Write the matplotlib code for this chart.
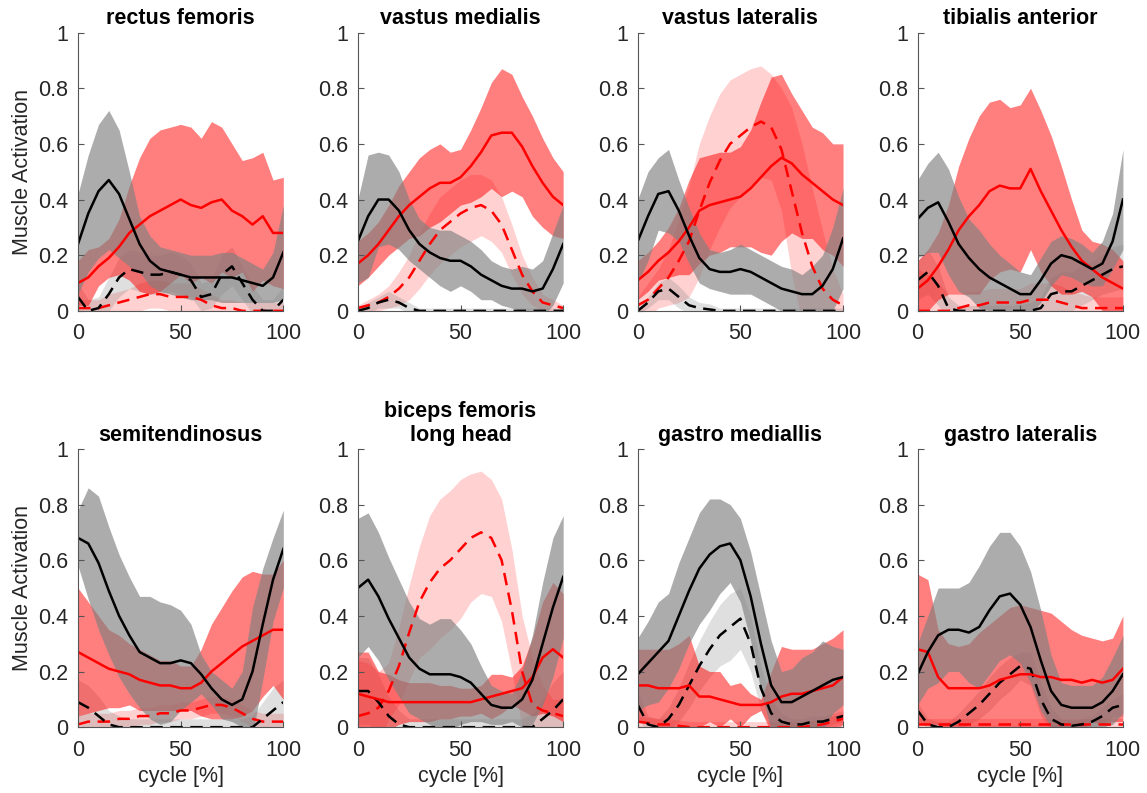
import numpy as np
import matplotlib
matplotlib.use('Agg')
import matplotlib.pyplot as plt

plt.rcParams['font.family'] = ['Liberation Sans', 'DejaVu Sans']

# gait cycle samples (every 5 %)
cycle = np.arange(0, 101, 5)

# ---- rectus femoris ----
rf_bs = [0.24, 0.35, 0.43, 0.47, 0.42, 0.33, 0.24, 0.18, 0.15, 0.14, 0.13, 0.12, 0.12, 0.12, 0.12, 0.12, 0.11, 0.10, 0.09, 0.12, 0.21]
rf_bs_sd = [0.18, 0.21, 0.24, 0.25, 0.23, 0.17, 0.10, 0.09, 0.08, 0.08, 0.08, 0.08, 0.08, 0.08, 0.09, 0.09, 0.08, 0.07, 0.06, 0.09, 0.17]
rf_bd = [0.05, 0.00, 0.01, 0.06, 0.12, 0.15, 0.14, 0.13, 0.13, 0.14, 0.13, 0.11, 0.05, 0.06, 0.13, 0.16, 0.10, 0.04, 0.00, 0.00, 0.04]
rf_bd_sd = [0.05, 0.04, 0.04, 0.06, 0.07, 0.07, 0.07, 0.07, 0.07, 0.07, 0.07, 0.06, 0.05, 0.05, 0.07, 0.07, 0.06, 0.05, 0.04, 0.04, 0.05]
rf_rs = [0.10, 0.12, 0.16, 0.19, 0.23, 0.28, 0.31, 0.34, 0.36, 0.38, 0.40, 0.38, 0.37, 0.39, 0.40, 0.36, 0.34, 0.31, 0.34, 0.28, 0.28]
rf_rs_sd = [0.08, 0.10, 0.07, 0.07, 0.10, 0.17, 0.24, 0.28, 0.29, 0.28, 0.27, 0.28, 0.25, 0.29, 0.26, 0.24, 0.20, 0.24, 0.23, 0.19, 0.20]
rf_rd = [0.01, 0.01, 0.01, 0.02, 0.03, 0.04, 0.05, 0.06, 0.06, 0.05, 0.05, 0.05, 0.04, 0.02, 0.01, 0.01, 0.00, 0.00, 0.00, 0.00, 0.00]
rf_rd_sd = [0.03, 0.03, 0.03, 0.04, 0.04, 0.04, 0.05, 0.05, 0.05, 0.05, 0.05, 0.05, 0.04, 0.04, 0.03, 0.03, 0.03, 0.03, 0.03, 0.03, 0.03]

# ---- vastus medialis ----
vm_bs = [0.25, 0.34, 0.40, 0.40, 0.36, 0.29, 0.24, 0.21, 0.19, 0.18, 0.18, 0.16, 0.13, 0.11, 0.09, 0.08, 0.08, 0.07, 0.08, 0.15, 0.24]
vm_bs_sd = [0.15, 0.22, 0.17, 0.16, 0.14, 0.11, 0.09, 0.09, 0.10, 0.11, 0.09, 0.09, 0.09, 0.07, 0.07, 0.07, 0.08, 0.08, 0.10, 0.13, 0.14]
vm_bd = [0.00, 0.01, 0.03, 0.04, 0.03, 0.01, 0.00, 0.00, 0.00, 0.00, 0.00, 0.00, 0.00, 0.00, 0.00, 0.00, 0.00, 0.00, 0.00, 0.00, 0.00]
vm_bd_sd = [0.01, 0.02, 0.02, 0.03, 0.02, 0.02, 0.01, 0.01, 0.01, 0.01, 0.01, 0.01, 0.01, 0.01, 0.01, 0.01, 0.01, 0.01, 0.01, 0.01, 0.01]
vm_rs = [0.17, 0.20, 0.24, 0.29, 0.34, 0.38, 0.41, 0.44, 0.46, 0.46, 0.48, 0.52, 0.57, 0.63, 0.64, 0.64, 0.59, 0.52, 0.46, 0.41, 0.38]
vm_rs_sd = [0.08, 0.08, 0.08, 0.09, 0.11, 0.12, 0.14, 0.14, 0.14, 0.11, 0.10, 0.13, 0.16, 0.19, 0.23, 0.21, 0.18, 0.18, 0.16, 0.14, 0.12]
vm_rd = [0.01, 0.02, 0.03, 0.05, 0.08, 0.12, 0.18, 0.24, 0.29, 0.32, 0.35, 0.37, 0.38, 0.36, 0.31, 0.22, 0.13, 0.07, 0.03, 0.02, 0.01]
vm_rd_sd = [0.01, 0.02, 0.03, 0.04, 0.06, 0.08, 0.10, 0.11, 0.12, 0.12, 0.12, 0.12, 0.11, 0.11, 0.10, 0.09, 0.07, 0.05, 0.03, 0.02, 0.01]

# ---- vastus lateralis ----
vl_bs = [0.25, 0.34, 0.42, 0.43, 0.36, 0.27, 0.19, 0.15, 0.14, 0.14, 0.15, 0.14, 0.12, 0.10, 0.08, 0.07, 0.06, 0.06, 0.09, 0.15, 0.26]
vl_bs_sd = [0.15, 0.16, 0.13, 0.15, 0.11, 0.10, 0.09, 0.07, 0.07, 0.08, 0.09, 0.08, 0.08, 0.08, 0.08, 0.08, 0.07, 0.10, 0.11, 0.15, 0.18]
vl_bd = [0.00, 0.03, 0.07, 0.08, 0.05, 0.02, 0.01, 0.005, 0.00, 0.00, 0.00, 0.00, 0.00, 0.00, 0.00, 0.00, 0.00, 0.00, 0.00, 0.00, 0.00]
vl_bd_sd = [0.01, 0.02, 0.03, 0.04, 0.04, 0.03, 0.02, 0.02, 0.01, 0.01, 0.01, 0.01, 0.01, 0.01, 0.01, 0.01, 0.01, 0.01, 0.01, 0.01, 0.01]
vl_rs = [0.11, 0.14, 0.18, 0.21, 0.25, 0.30, 0.36, 0.38, 0.39, 0.40, 0.41, 0.44, 0.48, 0.52, 0.55, 0.53, 0.49, 0.46, 0.43, 0.40, 0.38]
vl_rs_sd = [0.07, 0.07, 0.07, 0.09, 0.12, 0.17, 0.19, 0.18, 0.18, 0.17, 0.18, 0.21, 0.27, 0.32, 0.30, 0.25, 0.23, 0.20, 0.21, 0.20, 0.22]
vl_rd = [0.02, 0.04, 0.08, 0.12, 0.18, 0.25, 0.36, 0.46, 0.54, 0.60, 0.63, 0.66, 0.68, 0.66, 0.58, 0.43, 0.28, 0.16, 0.08, 0.04, 0.02]
vl_rd_sd = [0.03, 0.06, 0.07, 0.10, 0.15, 0.20, 0.24, 0.24, 0.24, 0.23, 0.22, 0.21, 0.20, 0.19, 0.22, 0.30, 0.32, 0.28, 0.21, 0.11, 0.04]

# ---- tibialis anterior ----
ta_bs = [0.33, 0.37, 0.39, 0.32, 0.24, 0.19, 0.15, 0.12, 0.10, 0.08, 0.06, 0.06, 0.11, 0.17, 0.20, 0.19, 0.17, 0.15, 0.17, 0.25, 0.40]
ta_bs_sd = [0.14, 0.16, 0.18, 0.19, 0.17, 0.14, 0.14, 0.12, 0.10, 0.09, 0.08, 0.07, 0.08, 0.08, 0.07, 0.07, 0.07, 0.06, 0.08, 0.10, 0.18]
ta_bd = [0.11, 0.14, 0.09, 0.01, 0.00, 0.00, 0.00, 0.00, 0.00, 0.00, 0.00, 0.00, 0.01, 0.06, 0.07, 0.07, 0.09, 0.11, 0.13, 0.15, 0.16]
ta_bd_sd = [0.07, 0.08, 0.07, 0.04, 0.02, 0.02, 0.02, 0.02, 0.02, 0.02, 0.02, 0.03, 0.04, 0.06, 0.07, 0.07, 0.07, 0.07, 0.07, 0.08, 0.08]
ta_rs = [0.08, 0.11, 0.16, 0.22, 0.29, 0.34, 0.38, 0.43, 0.45, 0.44, 0.44, 0.51, 0.43, 0.36, 0.29, 0.23, 0.18, 0.15, 0.12, 0.10, 0.08]
ta_rs_sd = [0.10, 0.11, 0.12, 0.16, 0.23, 0.28, 0.32, 0.32, 0.31, 0.29, 0.30, 0.29, 0.29, 0.27, 0.23, 0.17, 0.11, 0.10, 0.12, 0.12, 0.10]
ta_rd = [0.00, 0.00, 0.00, 0.00, 0.01, 0.02, 0.02, 0.03, 0.03, 0.03, 0.03, 0.04, 0.04, 0.04, 0.03, 0.02, 0.01, 0.01, 0.01, 0.01, 0.01]
ta_rd_sd = [0.15, 0.13, 0.10, 0.06, 0.05, 0.05, 0.05, 0.05, 0.05, 0.05, 0.05, 0.06, 0.06, 0.06, 0.06, 0.05, 0.05, 0.04, 0.04, 0.04, 0.04]

# ---- semitendinosus ----
st_bs = [0.68, 0.66, 0.59, 0.49, 0.40, 0.33, 0.27, 0.25, 0.23, 0.23, 0.24, 0.23, 0.19, 0.14, 0.10, 0.08, 0.10, 0.20, 0.37, 0.53, 0.64]
st_bs_sd = [0.10, 0.20, 0.24, 0.23, 0.22, 0.21, 0.20, 0.22, 0.22, 0.21, 0.18, 0.14, 0.07, 0.06, 0.07, 0.06, 0.10, 0.23, 0.20, 0.15, 0.14]
st_bd = [0.09, 0.07, 0.04, 0.01, 0.00, 0.00, 0.00, 0.00, 0.00, 0.00, 0.00, 0.00, 0.00, 0.00, 0.00, 0.00, 0.00, 0.00, 0.03, 0.06, 0.09]
st_bd_sd = [0.08, 0.08, 0.07, 0.05, 0.04, 0.03, 0.03, 0.03, 0.03, 0.03, 0.03, 0.03, 0.03, 0.03, 0.03, 0.03, 0.03, 0.04, 0.06, 0.08, 0.08]
st_rs = [0.27, 0.25, 0.23, 0.21, 0.20, 0.19, 0.17, 0.16, 0.15, 0.15, 0.14, 0.14, 0.16, 0.20, 0.23, 0.26, 0.29, 0.31, 0.33, 0.35, 0.35]
st_rs_sd = [0.23, 0.20, 0.17, 0.14, 0.13, 0.11, 0.11, 0.10, 0.09, 0.09, 0.08, 0.08, 0.12, 0.17, 0.20, 0.23, 0.25, 0.25, 0.22, 0.20, 0.25]
st_rd = [0.01, 0.02, 0.02, 0.02, 0.03, 0.03, 0.04, 0.04, 0.05, 0.05, 0.06, 0.06, 0.07, 0.08, 0.08, 0.07, 0.05, 0.03, 0.02, 0.02, 0.02]
st_rd_sd = [0.03, 0.03, 0.03, 0.03, 0.03, 0.03, 0.03, 0.03, 0.03, 0.03, 0.03, 0.03, 0.03, 0.03, 0.03, 0.03, 0.03, 0.03, 0.03, 0.03, 0.03]

# ---- biceps femoris long head ----
bf_bs = [0.50, 0.53, 0.47, 0.39, 0.32, 0.25, 0.21, 0.19, 0.19, 0.19, 0.18, 0.16, 0.12, 0.08, 0.07, 0.07, 0.10, 0.17, 0.30, 0.43, 0.54]
bf_bs_sd = [0.25, 0.24, 0.23, 0.22, 0.21, 0.20, 0.18, 0.18, 0.20, 0.20, 0.17, 0.14, 0.10, 0.07, 0.06, 0.05, 0.10, 0.16, 0.22, 0.25, 0.22]
bf_bd = [0.13, 0.13, 0.09, 0.04, 0.01, 0.00, 0.00, 0.00, 0.00, 0.00, 0.00, 0.00, 0.00, 0.00, 0.00, 0.00, 0.00, 0.00, 0.03, 0.06, 0.10]
bf_bd_sd = [0.12, 0.12, 0.10, 0.07, 0.05, 0.03, 0.03, 0.03, 0.03, 0.03, 0.03, 0.03, 0.03, 0.03, 0.03, 0.03, 0.03, 0.05, 0.07, 0.10, 0.10]
bf_rs = [0.12, 0.11, 0.10, 0.09, 0.09, 0.09, 0.09, 0.09, 0.09, 0.09, 0.09, 0.09, 0.10, 0.11, 0.12, 0.13, 0.14, 0.18, 0.25, 0.28, 0.25]
bf_rs_sd = [0.15, 0.16, 0.10, 0.10, 0.08, 0.07, 0.07, 0.07, 0.06, 0.06, 0.05, 0.05, 0.05, 0.08, 0.07, 0.05, 0.08, 0.14, 0.20, 0.24, 0.23]
bf_rd = [0.04, 0.05, 0.07, 0.13, 0.22, 0.34, 0.45, 0.52, 0.57, 0.60, 0.64, 0.68, 0.70, 0.68, 0.60, 0.42, 0.20, 0.08, 0.06, 0.05, 0.04]
bf_rd_sd = [0.20, 0.18, 0.13, 0.10, 0.14, 0.17, 0.20, 0.24, 0.25, 0.25, 0.25, 0.23, 0.22, 0.21, 0.22, 0.22, 0.20, 0.17, 0.09, 0.05, 0.06]

# ---- gastro mediallis ----
gm_bs = [0.19, 0.23, 0.27, 0.31, 0.40, 0.49, 0.57, 0.62, 0.65, 0.66, 0.60, 0.47, 0.30, 0.15, 0.09, 0.09, 0.11, 0.13, 0.15, 0.17, 0.18]
gm_bs_sd = [0.13, 0.15, 0.18, 0.17, 0.19, 0.19, 0.20, 0.20, 0.17, 0.14, 0.15, 0.16, 0.17, 0.16, 0.11, 0.12, 0.14, 0.14, 0.16, 0.12, 0.10]
gm_bd = [0.08, 0.01, 0.00, 0.03, 0.08, 0.15, 0.22, 0.28, 0.33, 0.36, 0.39, 0.30, 0.14, 0.05, 0.02, 0.01, 0.01, 0.02, 0.02, 0.03, 0.04]
gm_bd_sd = [0.05, 0.03, 0.03, 0.04, 0.06, 0.08, 0.09, 0.10, 0.11, 0.12, 0.11, 0.10, 0.08, 0.05, 0.03, 0.02, 0.02, 0.02, 0.02, 0.02, 0.02]
gm_rs = [0.15, 0.15, 0.14, 0.14, 0.14, 0.15, 0.11, 0.11, 0.10, 0.09, 0.08, 0.08, 0.08, 0.09, 0.11, 0.12, 0.12, 0.13, 0.14, 0.15, 0.18]
gm_rs_sd = [0.13, 0.13, 0.14, 0.14, 0.16, 0.18, 0.11, 0.09, 0.10, 0.06, 0.08, 0.04, 0.02, 0.11, 0.18, 0.16, 0.16, 0.15, 0.16, 0.17, 0.17]
gm_rd = [0.02, 0.015, 0.01, 0.01, 0.005, 0.00, 0.00, 0.00, 0.00, 0.00, 0.00, 0.00, 0.00, 0.00, 0.00, 0.00, 0.00, 0.005, 0.01, 0.02, 0.03]
gm_rd_sd = [0.02, 0.02, 0.02, 0.02, 0.02, 0.02, 0.02, 0.02, 0.02, 0.02, 0.02, 0.02, 0.02, 0.02, 0.02, 0.02, 0.02, 0.02, 0.02, 0.02, 0.02]

# ---- gastro lateralis ----
gl_bs = [0.19, 0.27, 0.33, 0.35, 0.35, 0.34, 0.36, 0.42, 0.47, 0.48, 0.44, 0.36, 0.24, 0.13, 0.08, 0.07, 0.07, 0.07, 0.09, 0.13, 0.19]
gl_bs_sd = [0.11, 0.13, 0.17, 0.15, 0.15, 0.18, 0.22, 0.23, 0.23, 0.22, 0.21, 0.20, 0.18, 0.13, 0.08, 0.08, 0.08, 0.08, 0.09, 0.12, 0.14]
gl_bd = [0.06, 0.01, 0.00, 0.00, 0.02, 0.05, 0.08, 0.12, 0.16, 0.19, 0.22, 0.21, 0.10, 0.03, 0.01, 0.005, 0.01, 0.02, 0.04, 0.07, 0.08]
gl_bd_sd = [0.03, 0.02, 0.02, 0.02, 0.03, 0.04, 0.05, 0.06, 0.06, 0.06, 0.05, 0.06, 0.06, 0.04, 0.02, 0.02, 0.02, 0.02, 0.03, 0.03, 0.04]
gl_rs = [0.28, 0.27, 0.18, 0.14, 0.14, 0.14, 0.14, 0.15, 0.17, 0.18, 0.19, 0.19, 0.18, 0.18, 0.17, 0.17, 0.16, 0.17, 0.16, 0.17, 0.21]
gl_rs_sd = [0.27, 0.26, 0.17, 0.16, 0.15, 0.16, 0.20, 0.22, 0.23, 0.25, 0.25, 0.24, 0.24, 0.23, 0.21, 0.18, 0.17, 0.15, 0.15, 0.15, 0.19]
gl_rd = [0.01, 0.01, 0.01, 0.01, 0.01, 0.01, 0.01, 0.01, 0.01, 0.01, 0.01, 0.01, 0.01, 0.01, 0.01, 0.01, 0.01, 0.01, 0.01, 0.01, 0.01]
gl_rd_sd = [0.02, 0.02, 0.02, 0.02, 0.02, 0.02, 0.02, 0.02, 0.02, 0.02, 0.02, 0.02, 0.02, 0.02, 0.02, 0.02, 0.02, 0.02, 0.02, 0.02, 0.02]

titles = ['rectus femoris', 'vastus medialis', 'vastus lateralis', 'tibialis anterior',
          'semitendinosus', 'biceps femoris\nlong head', 'gastro mediallis', 'gastro lateralis']

muscles = [
    (rf_bs, rf_bs_sd, rf_bd, rf_bd_sd, rf_rs, rf_rs_sd, rf_rd, rf_rd_sd),
    (vm_bs, vm_bs_sd, vm_bd, vm_bd_sd, vm_rs, vm_rs_sd, vm_rd, vm_rd_sd),
    (vl_bs, vl_bs_sd, vl_bd, vl_bd_sd, vl_rs, vl_rs_sd, vl_rd, vl_rd_sd),
    (ta_bs, ta_bs_sd, ta_bd, ta_bd_sd, ta_rs, ta_rs_sd, ta_rd, ta_rd_sd),
    (st_bs, st_bs_sd, st_bd, st_bd_sd, st_rs, st_rs_sd, st_rd, st_rd_sd),
    (bf_bs, bf_bs_sd, bf_bd, bf_bd_sd, bf_rs, bf_rs_sd, bf_rd, bf_rd_sd),
    (gm_bs, gm_bs_sd, gm_bd, gm_bd_sd, gm_rs, gm_rs_sd, gm_rd, gm_rd_sd),
    (gl_bs, gl_bs_sd, gl_bd, gl_bd_sd, gl_rs, gl_rs_sd, gl_rd, gl_rd_sd),
]

fig = plt.figure(figsize=(11.47, 7.93), dpi=100)

# axes placement (fractions of figure)
lefts = [0.068, 0.312, 0.556, 0.800]
bottoms = [0.608, 0.083]
w, h = 0.179, 0.351

FS = 15.5
dash = (0, (5, 3))


def band(ax, m, sd, color, alpha):
    m = np.array(m)
    sd = np.array(sd)
    ax.fill_between(cycle, m - sd, m + sd, color=color, alpha=alpha, linewidth=0)


for k, (title, d) in enumerate(zip(titles, muscles)):
    bs, bs_sd, bd, bd_sd, rs, rs_sd, rd, rd_sd = d
    row, col = divmod(k, 4)
    ax = fig.add_axes([lefts[col], bottoms[row], w, h])

    # bands
    band(ax, rd, rd_sd, '#ff0000', 0.18)
    band(ax, bd, bd_sd, '#808080', 0.25)
    band(ax, rs, rs_sd, '#ff0000', 0.5)
    band(ax, bs, bs_sd, '#808080', 0.65)

    # mean lines
    ax.plot(cycle, rd, color='#ff0000', lw=1.8, ls=dash)
    ax.plot(cycle, bd, color='black', lw=1.8, ls=dash)
    ax.plot(cycle, rs, color='#ff0000', lw=1.8)
    ax.plot(cycle, bs, color='black', lw=1.8)

    ax.set_xlim(0, 100)
    ax.set_ylim(0, 1)
    ax.set_xticks([0, 50, 100])
    ax.set_yticks([0, 0.2, 0.4, 0.6, 0.8, 1])
    ax.set_yticklabels(['0', '0.2', '0.4', '0.6', '0.8', '1'])
    ax.tick_params(direction='in', length=4, width=0.8, labelsize=FS,
                   colors='#555555', labelcolor='#262626')
    ax.tick_params(axis='y', pad=7)
    ax.tick_params(axis='x', pad=9)
    for s in ['top', 'right']:
        ax.spines[s].set_visible(False)
    for s in ['left', 'bottom']:
        ax.spines[s].set_color('#555555')
        ax.spines[s].set_linewidth(0.8)

    ax.set_title(title, fontsize=FS, fontweight='bold', pad=6, linespacing=1.15)
    if col == 0:
        ax.set_ylabel('Muscle Activation', fontsize=FS, color='#262626', labelpad=4)
    if row == 1:
        ax.set_xlabel('cycle [%]', fontsize=FS, color='#262626', labelpad=4)

fig.savefig('out.png', dpi=100)
